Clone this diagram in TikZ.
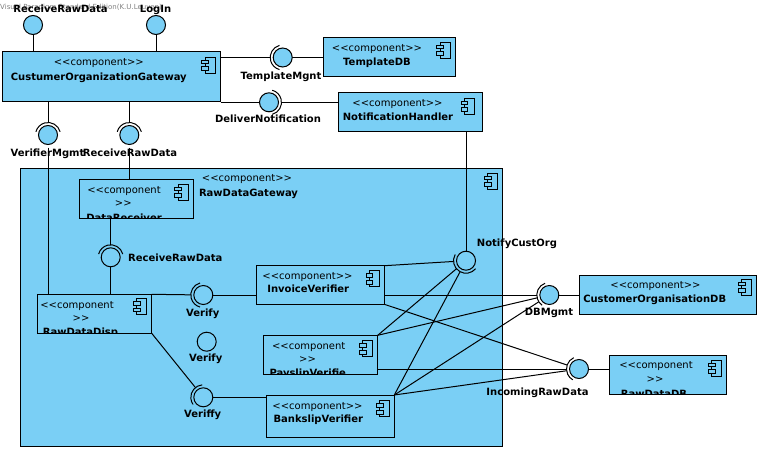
\documentclass[tikz,border=0pt]{standalone}
\usepackage{fontspec}
\newfontfamily\vp{DejaVu Sans}
\definecolor{vpblue}{RGB}{122,207,245}
\tikzset{
  box/.style={draw, fill=vpblue, line width=1pt, inner sep=0pt, outer sep=0pt},
  ball/.style={circle, draw, fill=vpblue, line width=1pt, minimum size=19pt, inner sep=0pt, outer sep=0pt},
  ring/.style={circle, minimum size=25pt, inner sep=0pt, outer sep=0pt},
  conn/.style={line width=1pt},
  t/.style={font=\vp\fontsize{10}{12}\selectfont, inner sep=0pt, anchor=base},
  tb/.style={t, font=\vp\bfseries\fontsize{10}{12}\selectfont},
  tl/.style={anchor=base west}
}
\newcommand\sockarc[3]{\draw[conn] ([shift={(-#2:12.5)}]#1.center) arc[start angle=-#2, end angle=-#3, radius=12.5];}
\newcommand\cicon[2]{\begin{scope}[shift={(#1,#2)}, line width=0.8pt]
  \draw[fill=vpblue] (-3.3,-8) rectangle (6.7,8);
  \draw[fill=vpblue] (-6.7,-5) rectangle (0,-1.2);
  \draw[fill=vpblue] (-6.7,1.5) rectangle (0,5.3);
\end{scope}}
\begin{document}
\begin{tikzpicture}[x=1pt,y=-1pt]
\path[use as bounding box] (0,0) rectangle (762,452);
\node[t, tl, text=black!50, font=\vp\fontsize{7}{8}\selectfont] (wm) at (0,9.5) {Visual Paradigm Standard Edition(K.U.Leuven)};

% container
\node[box, minimum width=481.6pt, minimum height=278.4pt] (rdg) at (261.5,307.5) {};

% boxes
\node[box, minimum width=218.4pt, minimum height=49pt] (gw) at (111.5,76.5) {};
\node[box, minimum width=132.7pt, minimum height=38.3pt] (tdb) at (389.35,56.85) {};
\node[box, minimum width=143.3pt, minimum height=38.3pt] (nh) at (410.35,111.85) {};
\node[box, minimum width=114.7pt, minimum height=39pt] (dr) at (136.35,198.8) {};
\node[box, minimum width=114.4pt, minimum height=39pt] (rdd) at (94.5,313.8) {};
\node[box, minimum width=128.3pt, minimum height=38.6pt] (inv) at (320.15,285) {};
\node[box, minimum width=114.4pt, minimum height=38.7pt] (pay) at (320.5,354.65) {};
\node[box, minimum width=128.3pt, minimum height=42.3pt] (bank) at (330.15,416.15) {};
\node[box, minimum width=177.4pt, minimum height=39.3pt] (cod) at (668,294.65) {};
\node[box, minimum width=117pt, minimum height=38.7pt] (rdb) at (667.8,374.65) {};

% socket rings (invisible, for connector ends)
\node[ring] (vmS) at (48,135) {};
\node[ring] (rrd2S) at (129.3,135) {};
\node[ring] (tS) at (282.7,57.5) {};
\node[ring] (dS) at (269,102.3) {};
\node[ring] (nS) at (466,260.7) {};
\node[ring] (iS) at (110.7,257.3) {};
\node[ring] (vS) at (203.3,295) {};
\node[ring] (vfS) at (203.3,397.3) {};
\node[ring] (dbS) at (549.3,295) {};
\node[ring] (inS) at (579,369) {};

% connectors
\draw[conn] (33,25) coordinate (rrdC) -- (rrdC |- gw.north);
\draw[conn] (156,25) coordinate (loginC) -- (loginC |- gw.north);
\draw[conn] (vmS |- gw.south) -- (vmS);
\draw[conn] (vmS) -- (vmS |- rdd.north);
\draw[conn] (rrd2S |- gw.south) -- (rrd2S);
\draw[conn] (rrd2S) -- (rrd2S |- dr.north);
\draw[conn] (gw.east |- tS) -- (tS);
\draw[conn] (tS.center) -- (tS -| tdb.west);
\draw[conn] (gw.east |- dS) -- (dS.center);
\draw[conn] (dS) -- (dS -| nh.west);
\draw[conn] (nS |- nh.south) -- (nS.center);
\draw[conn] (iS |- dr.south) -- (iS);
\draw[conn] (iS.center) -- (iS |- rdd.north);
\draw[conn] (rdd.north east) -- (vS);
\draw[conn] (vS.center) -- (vS -| inv.west);
\draw[conn] (rdd.south east) -- (vfS);
\draw[conn] (vfS.center) -- (vfS -| bank.west);
\draw[conn] (inv.north east) -- (nS);
\draw[conn] (pay.north east) -- (nS);
\draw[conn] (bank.north east) -- (nS);
\draw[conn] (inv.east |- dbS) -- (dbS);
\draw[conn] (pay.north east) -- (dbS);
\draw[conn] (bank.north east) -- (dbS);
\draw[conn] (dbS.center) -- (dbS -| cod.west);
\draw[conn] (inv.south east) -- (inS);
\draw[conn] (pay.east |- inS) -- (inS);
\draw[conn] (bank.north east) -- (inS);
\draw[conn] (inS.center) -- (inS -| rdb.west);

% balls
\node[ball] (rrdB) at (rrdC) {};
\node[ball] (loginB) at (loginC) {};
\node[ball] (vmB) at (vmS) {};
\node[ball] (rrd2B) at (rrd2S) {};
\node[ball] (tB) at (tS) {};
\node[ball] (dB) at (dS) {};
\node[ball] (nB) at (nS) {};
\node[ball] (iB) at (iS) {};
\node[ball] (vB) at (vS) {};
\node[ball] (vlB) at (206.7,341.7) {};
\node[ball] (vfB) at (vfS) {};
\node[ball] (dbB) at (dbS) {};
\node[ball] (inB) at (inS) {};

% socket arcs
\sockarc{vmS}{15}{165}
\sockarc{rrd2S}{15}{165}
\sockarc{tS}{105}{255}
\sockarc{dS}{-75}{75}
\sockarc{nS}{150}{320}
\sockarc{iS}{15}{165}
\sockarc{vS}{105}{255}
\sockarc{vfS}{95}{215}
\sockarc{dbS}{110}{235}
\sockarc{inS}{115}{240}

% icons
\cicon{208.5}{65}
\cicon{443.3}{50}
\cicon{467.7}{106}
\cicon{491}{181}
\cicon{181.5}{192}
\cicon{140}{306.5}
\cicon{372.7}{278.7}
\cicon{366}{348.7}
\cicon{383}{408.7}
\cicon{745}{287}
\cicon{715}{368}

% texts
\node[t] (gwS) at (98.8,66) {<<component>>};
\node[tb] (gwN) at (98.8,80) {CustumerOrganizationGateway};
\node[tb] (lRrd) at (60.5,12.3) {ReceiveRawData};
\node[tb] (lLogin) at (155.5,12.3) {LogIn};
\node[tb] (lVm) at (47.5,156) {VerifierMgmt};
\node[tb] (lRrd2) at (130,156) {ReceiveRawData};
\node[tb] (lT) at (281,79.3) {TemplateMgnt};
\node[tb] (lD) at (268,122.3) {DeliverNotification};
\node[t] (tdbS) at (377,51.7) {<<component>>};
\node[tb] (tdbN) at (377,65) {TemplateDB};
\node[t] (nhS) at (397.5,106.7) {<<component>>};
\node[tb] (nhN) at (398,120) {NotificationHandler};
\node[t] (rdgS) at (247,181.7) {<<component>>};
\node[tb] (rdgN) at (248.5,196) {RawDataGateway};
\node[t] (drS1) at (124,193.3) {<<component};
\node[t] (drS2) at (123.3,206) {>>};
\begin{scope}
\clip (dr.north west) rectangle (dr.south east);
\node[tb] (drN) at (124,221) {DataReceiver};
\end{scope}
\node[tb, tl] (lI) at (128,261) {ReceiveRawData};
\node[t] (rddS1) at (77,308.3) {<<component};
\node[t] (rddS2) at (81,321) {>>};
\begin{scope}
\clip (rdd.north west) rectangle (rdd.south east);
\node[tb] (rddN) at (80.5,335.5) {RawDataDisp};
\end{scope}
\node[tb] (lV) at (202.7,316) {Verify};
\node[tb] (lVl) at (205.7,361.7) {Verify};
\node[tb] (lVf) at (202.7,417.7) {Veriffy};
\node[t] (invS) at (307.5,279) {<<component>>};
\node[tb] (invN) at (308.2,292.3) {InvoiceVerifier};
\node[t] (payS1) at (308.7,349) {<<component};
\node[t] (payS2) at (307.5,362.3) {>>};
\begin{scope}
\clip (pay.north west) rectangle (pay.south east);
\node[tb, tl] (payN) at (269.3,376.7) {PayslipVerifie};
\end{scope}
\node[t] (bankS) at (317.5,409) {<<component>>};
\node[tb] (bankN) at (318.3,422.3) {BankslipVerifier};
\node[tb] (lN) at (517,246.7) {NotifyCustOrg};
\node[tb] (lDb) at (549,315) {DBMgmt};
\node[tb] (lIn) at (537.5,395) {IncomingRawData};
\node[t] (codS) at (655.5,288) {<<component>>};
\node[tb] (codN) at (654.7,302) {CustomerOrganisationDB};
\node[t] (rdbS1) at (656,368.3) {<<component};
\node[t] (rdbS2) at (655,382.7) {>>};
\begin{scope}
\clip (rdb.north west) rectangle (rdb.south east);
\node[tb] (rdbN) at (654,397) {RawDataDB};
\end{scope}
\end{tikzpicture}
\end{document}
